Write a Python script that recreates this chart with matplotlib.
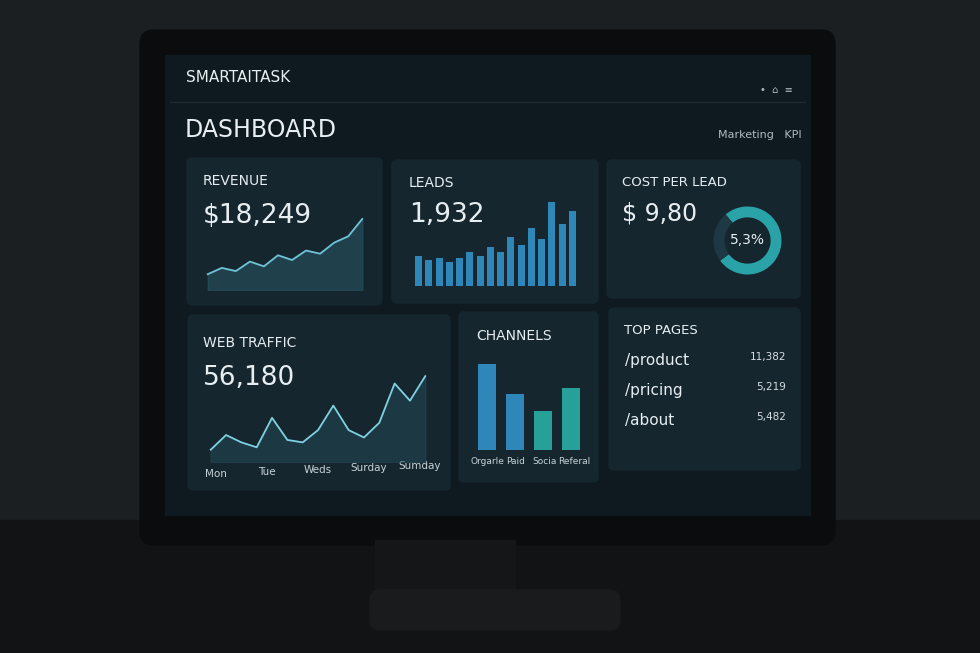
import matplotlib
matplotlib.use("Agg")
import matplotlib.pyplot as plt
from matplotlib.patches import FancyBboxPatch, Rectangle
import numpy as np

W, H = 980, 653
revenue = [2.0, 2.8, 2.4, 3.6, 3.0, 4.4, 3.8, 5.0, 4.6, 6.0, 6.8, 9.0]
leads = [28, 24, 26, 22, 26, 32, 28, 36, 32, 46, 38, 54, 44, 78, 58, 70]
donut = [76, 24]
traffic = [1.0, 2.2, 1.6, 1.2, 3.6, 1.8, 1.6, 2.6, 4.6, 2.6, 2.0, 3.2, 6.4, 5.0, 7.0]
traffic_days = ["Mon", "Tue", "Weds", "Surday", "Sumday"]
channels = ["Orgarle", "Paid", "Socia", "Referal"]
channel_vals = [80, 52, 36, 58]
pages = ["/product", "/pricing", "/about"]
page_vals = ["11,382", "5,219", "5,482"]

fig = plt.figure(figsize=(9.8, 6.53), dpi=100, facecolor="#1c1f21")
bg = fig.add_axes([0, 0, 1, 1]); bg.set_xlim(0, W); bg.set_ylim(H, 0); bg.axis("off")
bg.add_patch(Rectangle((0, 520), W, 133, color="#121315"))
bg.add_patch(FancyBboxPatch((140, 30), 695, 515, boxstyle="round,pad=0,rounding_size=14", color="#0a0c0e"))
bg.add_patch(Rectangle((375, 540), 140, 60, color="#141618"))
bg.add_patch(FancyBboxPatch((370, 590), 250, 40, boxstyle="round,pad=0,rounding_size=10", color="#191b1d"))
bg.add_patch(Rectangle((165, 55), 645, 460, color="#0f1a20"))
bg.text(186, 78, "SMARTAITASK", color="#e6eef2", fontsize=11, va="center")
bg.plot([170, 805], [102, 102], color="#1e2a31", lw=1)
bg.text(185, 130, "DASHBOARD", color="#e8eef1", fontsize=17, va="center")
bg.text(718, 135, "Marketing   KPI", color="#aebbc2", fontsize=8, va="center")
bg.text(760, 90, "•  ⌂  ≡", color="#aebbc2", fontsize=7, va="center")

panels = {"rev": (187, 158, 382, 305), "lead": (392, 160, 598, 303), "cpl": (607, 160, 800, 298),
          "web": (188, 315, 450, 490), "ch": (459, 312, 598, 482), "top": (609, 308, 800, 470)}
for (x1, y1, x2, y2) in panels.values():
    bg.add_patch(FancyBboxPatch((x1, y1), x2 - x1, y2 - y1, boxstyle="round,pad=0,rounding_size=5", color="#16262e"))

def ax_at(x1, y1, x2, y2):
    a = fig.add_axes([x1 / W, 1 - y2 / H, (x2 - x1) / W, (y2 - y1) / H])
    a.set_facecolor("none"); a.axis("off"); return a

t = dict(color="#e6eef2")
bg.text(203, 181, "REVENUE", fontsize=10, va="center", **t)
bg.text(203, 216, "$18,249", fontsize=19, va="center", **t)
a = ax_at(200, 215, 370, 290)
xs = np.arange(len(revenue))
a.plot(xs, revenue, color="#6fc3d6", lw=1.3)
a.fill_between(xs, revenue, 0, color="#2a5a6a", alpha=0.5); a.set_ylim(0, 9.5)

bg.text(409, 183, "LEADS", fontsize=10, va="center", **t)
bg.text(409, 215, "1,932", fontsize=19, va="center", **t)
a = ax_at(407, 200, 584, 286)
a.bar(range(len(leads)), leads, color="#2f86b8", width=0.7); a.set_ylim(0, 80)

bg.text(622, 182, "COST PER LEAD", fontsize=9.5, va="center", **t)
bg.text(622, 214, "$ 9,80", fontsize=17, va="center", **t)
a = ax_at(705, 193, 790, 288)
a.pie(donut, colors=["#2aa3a8", "#1d3a44"], startangle=130, counterclock=False,
      wedgeprops=dict(width=0.32))
a.text(0, 0, "5,3%", ha="center", va="center", fontsize=10, **t)

bg.text(203, 343, "WEB TRAFFIC", fontsize=10, va="center", **t)
bg.text(203, 378, "56,180", fontsize=19, va="center", **t)
a = ax_at(200, 370, 436, 462)
xs = np.linspace(0, 1, len(traffic))
a.plot(xs, traffic, color="#7fd0e0", lw=1.3)
a.fill_between(xs, traffic, 0, color="#24505e", alpha=0.45); a.set_ylim(0, 7.5)
for i, d in enumerate(traffic_days):
    bg.text(216 + i * 51, 474 - i * 2, d, fontsize=7.5, color="#c6d2d8", ha="center", va="center")

bg.text(476, 336, "CHANNELS", fontsize=10, va="center", **t)
a = ax_at(470, 362, 588, 450)
a.bar(range(4), channel_vals, color=["#2f86b8", "#2f86b8", "#28a09a", "#28a09a"], width=0.62)
a.set_ylim(0, 82); a.set_xlim(-0.6, 3.6)
for i, c in enumerate(channels):
    bg.text(487 + i * 29, 462, c, fontsize=6.5, color="#c6d2d8", ha="center", va="center")

bg.text(624, 330, "TOP PAGES", fontsize=9.5, va="center", **t)
for i, (p, v) in enumerate(zip(pages, page_vals)):
    y = 361 + i * 30
    bg.text(625, y, p, fontsize=11, va="center", **t)
    bg.text(786, y - 4, v, fontsize=7.5, ha="right", va="center", color="#d5dee3")

fig.savefig("out.png", dpi=100, facecolor=fig.get_facecolor())
